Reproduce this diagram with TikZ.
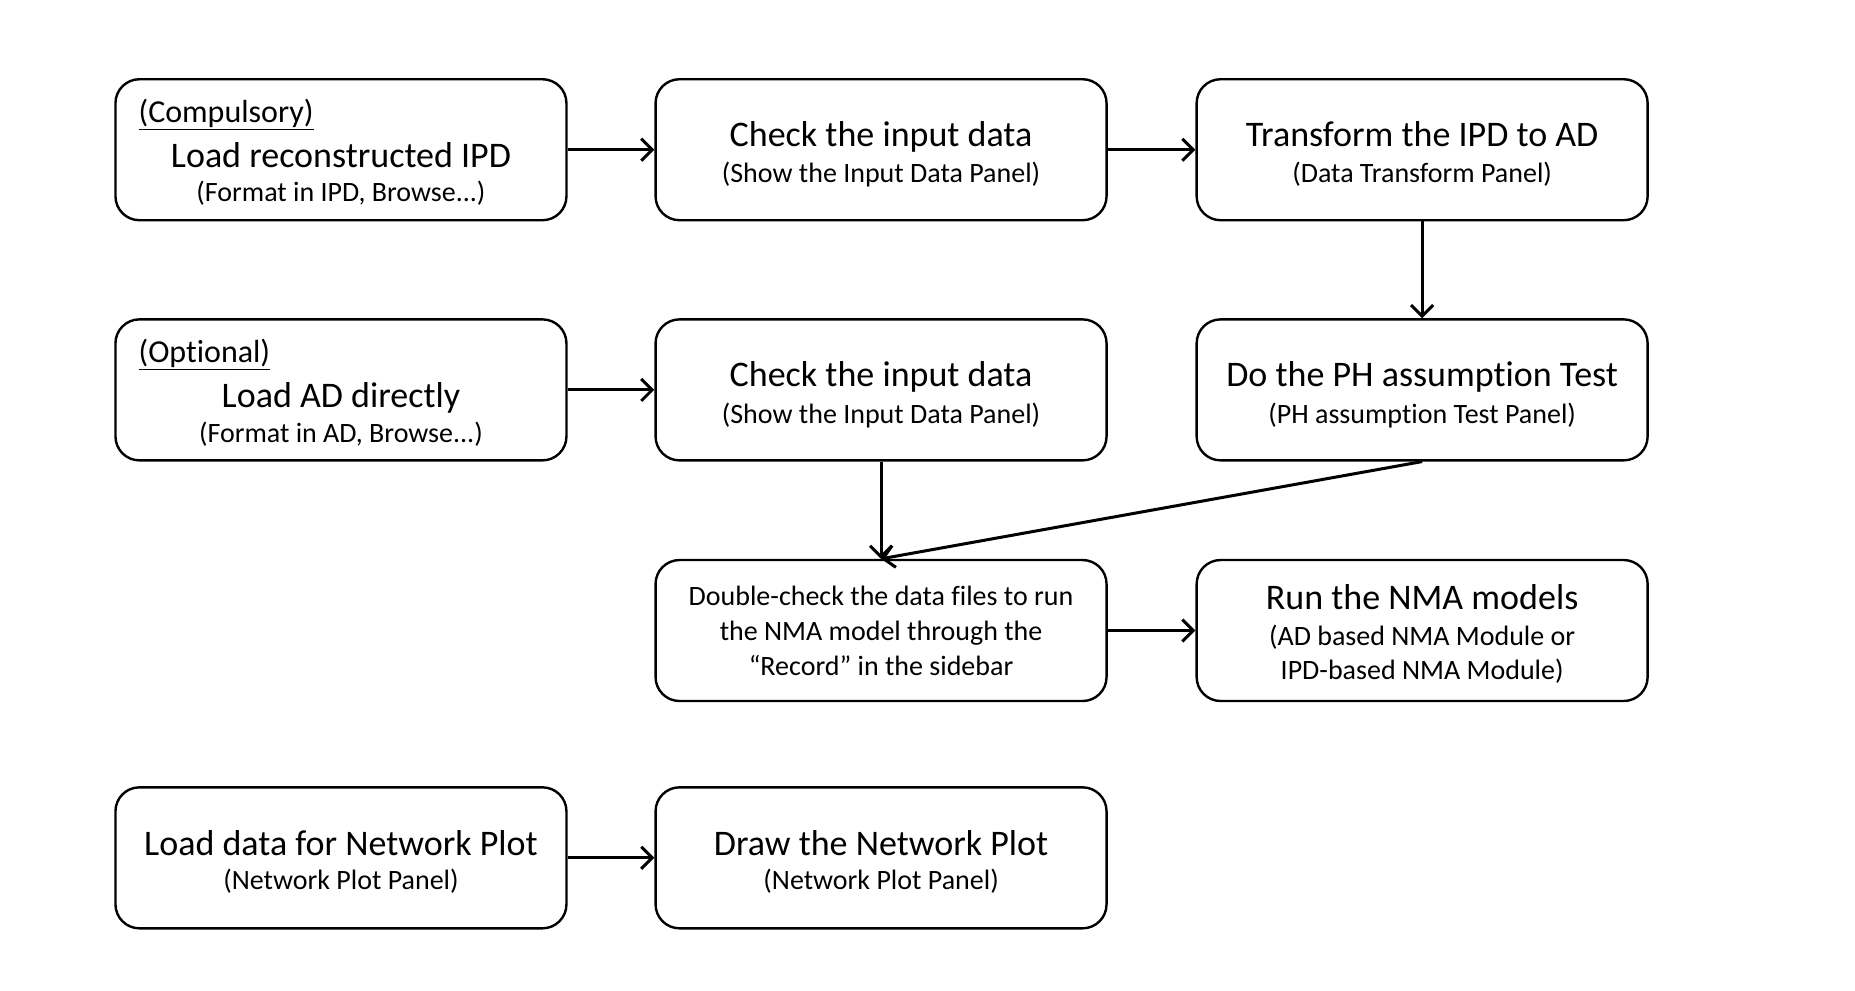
\documentclass[tikz,border=0pt]{standalone}
\usepackage{fontspec}
\setmainfont{Carlito}[Ligatures=NoCommon, Contextuals=NoAlternate]
\usetikzlibrary{arrows.meta}
\tikzset{
  box/.style={draw=black, line width=2.4pt, rounded corners=24pt, minimum width=451pt, minimum height=141pt, inner sep=0pt},
  big/.style={inner sep=0pt, text height=0.75em, text depth=0.25em, yshift=-10.5pt, font=\fontsize{36}{40}\selectfont},
  small/.style={inner sep=0pt, text height=0.75em, text depth=0.25em, yshift=-7.5pt, font=\fontsize{28}{34}\selectfont},
  tag/.style={inner sep=0pt, text height=0.75em, text depth=0.25em, yshift=-7.5pt, anchor=west, font=\fontsize{32}{38}\selectfont},
  conn/.style={line width=3pt, -{Straight Barb[length=11pt,width=22pt,line width=3pt]}}
}
\begin{document}
\begin{tikzpicture}[x=0.9883pt,y=-0.9883pt]
\useasboundingbox (0,0) rectangle (1877,1002.7);
% boxes
\node[box] (b1) at (345,151.5) {};
\node[box] (b2) at (891.5,151.5) {};
\node[box] (b3) at (1439,151.5) {};
\node[box] (b4) at (345,394.5) {};
\node[box] (b5) at (891.5,394.5) {};
\node[box] (b6) at (1439,394.5) {};
\node[box] (b7) at (891.5,638) {};
\node[box] (b8) at (1439,638) {};
\node[box] (b9) at (345,868) {};
\node[box] (b10) at (891.5,868) {};
% texts
\node[tag] (t1a) at (140,114) {\underline{(Compulsory)}};
\node[big] (t1b) at (345,156) {Load reconstructed IPD};
\node[small] (t1c) at (345,194) {(Format in IPD, Browse...)};
\node[big] (t2b) at (891.5,135) {Check the input data};
\node[small] (t2c) at (891.5,175) {(Show the Input Data Panel)};
\node[big] (t3b) at (1439,135) {Transform the IPD to AD};
\node[small] (t3c) at (1439,175) {(Data Transform Panel)};
\node[tag] (t4a) at (140,357) {\underline{(Optional)}};
\node[big] (t4b) at (345,399) {Load AD directly};
\node[small] (t4c) at (345,438) {(Format in AD, Browse...)};
\node[big] (t5b) at (891.5,378) {Check the input data};
\node[small] (t5c) at (891.5,418) {(Show the Input Data Panel)};
\node[big] (t6b) at (1439,378) {Do the PH assumption Test};
\node[small] (t6c) at (1439,418) {(PH assumption Test Panel)};
\node[small] (t7a) at (891.5,603) {Double-check the data files to run};
\node[small] (t7b) at (891.5,638) {the NMA model through the};
\node[small] (t7c) at (891.5,673) {“Record” in the sidebar};
\node[big] (t8a) at (1439,604) {Run the NMA models};
\node[small] (t8b) at (1439,643) {(AD based NMA Module or};
\node[small] (t8c) at (1439,677) {IPD-based NMA Module)};
\node[big] (t9b) at (345,852) {Load data for Network Plot};
\node[small] (t9c) at (345,890) {(Network Plot Panel)};
\node[big] (t10b) at (891.5,852) {Draw the Network Plot};
\node[small] (t10c) at (891.5,890) {(Network Plot Panel)};
% connectors
\draw[conn] (b1) -- (b2);
\draw[conn] (b2) -- (b3);
\draw[conn] (b3) -- (b6);
\draw[conn] (b4) -- (b5);
\draw[conn] (b5) -- (b7);
\draw[conn] (b6.south) -- (b7.north);
\draw[conn] (b7) -- (b8);
\draw[conn] (b9) -- (b10);
\end{tikzpicture}
\end{document}
